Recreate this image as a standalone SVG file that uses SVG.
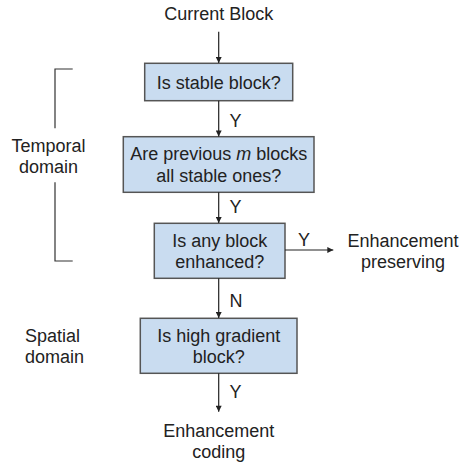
<svg xmlns="http://www.w3.org/2000/svg" width="460" height="465" viewBox="0 0 460 465">
  <defs>
    <marker id="arrow" viewBox="0 0 10 10" refX="10" refY="5" markerWidth="7" markerHeight="6" markerUnits="userSpaceOnUse" orient="auto">
      <path d="M0,0 L10,5 L0,10 z" fill="#222"/>
    </marker>
    <style>
      text { font-family: "Liberation Sans", Arial, sans-serif; font-size: 18px; fill: #222; }
      .c { text-anchor: middle; }
      .box { fill: #c9dcf0; stroke: #555; stroke-width: 1.5; }
      .edge { stroke: #222; stroke-width: 1.2; fill: none; marker-end: url(#arrow); }
      .bracket { stroke: #333; stroke-width: 1.2; fill: none; }
    </style>
  </defs>

  <rect width="460" height="465" fill="#fff"/>

  <!-- domain brackets and labels -->
  <g id="temporal-domain">
    <path class="bracket" d="M72.7,69 H55 V128.3"/>
    <path class="bracket" d="M55,182.3 V261 H72.7"/>
    <text class="c" x="48.5" y="151.7">Temporal</text>
    <text class="c" x="48.5" y="173.3">domain</text>
  </g>
  <g id="spatial-domain">
    <text x="25" y="341.7">Spatial</text>
    <text x="25" y="363.3">domain</text>
  </g>

  <!-- terminals -->
  <g id="current-block">
    <text class="c" x="218.7" y="20">Current Block</text>
  </g>
  <g id="enhancement-preserving">
    <text class="c" x="403" y="246.7">Enhancement</text>
    <text class="c" x="403" y="268.3">preserving</text>
  </g>
  <g id="enhancement-coding">
    <text class="c" x="218.7" y="436.7">Enhancement</text>
    <text class="c" x="218.7" y="458.3">coding</text>
  </g>

  <!-- decision boxes -->
  <g id="stable-block">
    <rect class="box" x="144.7" y="63.3" width="148" height="37.4"/>
    <text class="c" x="218.7" y="89.3">Is stable block?</text>
  </g>
  <g id="previous-blocks">
    <rect class="box" x="123.3" y="136.7" width="190.7" height="55.6"/>
    <text class="c" x="218.7" y="160.3">Are previous <tspan font-style="italic">m</tspan> blocks</text>
    <text class="c" x="218.7" y="182.3">all stable ones?</text>
  </g>
  <g id="block-enhanced">
    <rect class="box" x="154.3" y="223.3" width="130.7" height="55"/>
    <text class="c" x="219.7" y="246.7">Is any block</text>
    <text class="c" x="219.7" y="268.3">enhanced?</text>
  </g>
  <g id="high-gradient">
    <rect class="box" x="140.3" y="318.3" width="156.7" height="55"/>
    <text class="c" x="218.7" y="341.7">Is high gradient</text>
    <text class="c" x="218.7" y="363.3">block?</text>
  </g>

  <!-- connectors -->
  <g id="connectors">
    <line class="edge" x1="218.7" y1="31.7" x2="218.7" y2="63"/>
    <line class="edge" x1="218.7" y1="100.7" x2="218.7" y2="136.4"/>
    <text x="229.5" y="126.7">Y</text>
    <line class="edge" x1="218.7" y1="192.3" x2="218.7" y2="223"/>
    <text x="229.5" y="213.3">Y</text>
    <line class="edge" x1="285" y1="250" x2="333.3" y2="250"/>
    <text x="298" y="246">Y</text>
    <line class="edge" x1="218.7" y1="278.3" x2="218.7" y2="318"/>
    <text x="229.5" y="306.7">N</text>
    <line class="edge" x1="218.7" y1="373.3" x2="218.7" y2="411.7"/>
    <text x="229.5" y="398.3">Y</text>
  </g>
</svg>
